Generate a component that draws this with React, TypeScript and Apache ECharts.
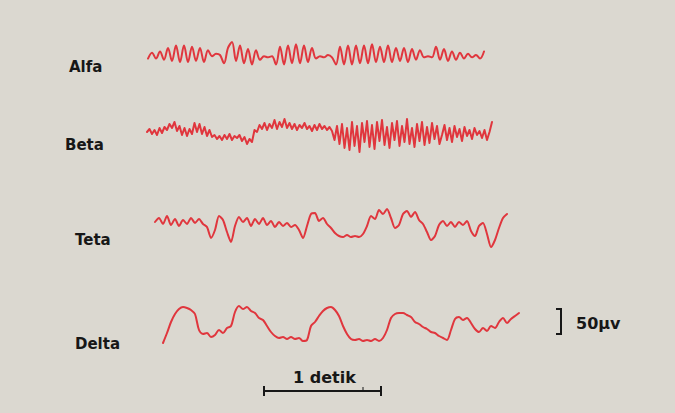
import { useEffect, useRef } from 'react';
import * as echarts from 'echarts';

const waveNames = ['Alfa', 'Beta', 'Teta', 'Delta'];

// amplitudes, positive = up
const alfaWave = [
  -3, 2, -3, 3, -4, 6, -5, 8, -6, 8, -6, 7, -5, 6, -6, 4, -1, 1, 0, -7,
  6, 11, -5, 8, -7, 5, -8, 4, -4, -1, -2, -1, -8, 7, -8, 8, -7, 9, -7, 8,
  -6, 6, -3, -1, -2, 0, -2, -8, 7, -8, 8, -8, 8, -7, 8, -7, 9, -6, 7, -6,
  8, -6, 6, -5, 6, -6, 5, -4, 4, -2, -1, -2, 7, -4, 5, -5, 3, -4, 2, -3,
  1, -2, 0, -3, 3,
];

const betaWave = [
  0, 3, -2, 2, -3, 4,
  -1, 5, 2, 8, 4, 10, 1, 6, -3, 4, -4, 3, -2, 9, 0, 8,
  -2, 5, -4, 2, -5, -3,
  -7, -4, -8, -3, -7, -2, -8, -4, -6, -3, -9, -5, -12, -7,
  -10, 2, 0, 7, 3, 9, 2, 8, 4, 12, 3, 10, 5, 13, 4, 9,
  3, 8, 2, 7, 4, 9, 3, 6, 1, 7, 2, 8, 3, 6, 2, 5,
  1, -8, 6, -12, 8, -16, 4, -18, 10, -14, 6, -20, 9, -10, 11, -15, 7, -17, 10, -9,
  12, -13, 5, -16, 9, -8, 11, -14, 6, -10, 13, -12, 4, -15, 8, -9, 10, -13, 5, -11,
  9, -7, 6, -12,
  -3, 7, -8, 4, -10, 6, -5, 3, -9, 5, -4, 2, -7, 4, -3, 1, -6, 2, -8, 0, 10,
];

const tetaWave = [
  6, 10, 4, 12, 3, 9, 2, 8, 4, 10, 5, 9, 4, 1, -10, -2, 12, 8, -4, -14,
  2, 11, 6, 10, 2, 9, 4, 10, 3, 7, 1, 6, 2, 5, 1, 3, -2, -10, 2, 14,
  15, 7, 10, 4, 0, -5, -8, -9, -7, -9, -8, -9, -6, 2, 12, 9, 18, 14, 19, 10,
  0, 3, 14, 17, 11, 16, 8, 4, -4, -12, -8, 3, 7, 2, 6, 1, 6, 3, 7, -3,
  -8, 2, 5, -6, -19, -12, 0, 10, 14,
];

const deltaWave = [
  -19, -9, 2, 10, 15, 17, 16, 14, 10, -6, -10, -9, -13, -11, -6, -9, -4, -2, 12, 18,
  15, 17, 13, 11, 6, 4, -2, -8, -12, -14, -13, -15, -13, -15, -14, -17, -16, -2, 2, 8,
  13, 16, 17, 14, 8, -2, -10, -15, -16, -15, -17, -16, -17, -15, -17, -14, -6, 6, 10, 11,
  11, 9, 7, 2, 0, -3, -5, -8, -9, -12, -14, -16, -6, 5, 7, 4, 6, 1, -5, -8,
  -4, -7, -2, -4, 2, 6, 1, 5, 8, 11,
];

const voltLabel = '50µv';
const timeLabel = '1 detik';

export default function App() {
  const chartRef = useRef<HTMLDivElement>(null);

  useEffect(() => {
    if (!chartRef.current) return;
    const chart = echarts.init(chartRef.current, null, { renderer: 'svg' });

    const waves = [alfaWave, betaWave, tetaWave, deltaWave];
    const grids = [
      { left: 148, top: 42, width: 336, height: 26 },
      { left: 147, top: 112, width: 345, height: 40 },
      { left: 155, top: 208, width: 352, height: 40 },
      { left: 163, top: 304, width: 356, height: 40 },
    ];
    const spans = [11, 20, 20, 20];
    const smooth = [0.35, 0, 0.25, 0.3];
    const labelPos = [
      [69, 67],
      [65, 145],
      [75, 240],
      [75, 344],
    ];

    const ink = '#171717';
    const labelFont = 'bold 15px "DejaVu Sans", sans-serif';

    chart.setOption({
      animation: false,
      backgroundColor: '#dbd8d0',
      grid: grids.map((g) => ({ ...g, containLabel: false })),
      xAxis: waves.map((w, i) => ({
        type: 'category',
        gridIndex: i,
        boundaryGap: false,
        data: w.map((_, k) => k),
        show: false,
      })),
      yAxis: waves.map((_, i) => ({
        type: 'value',
        gridIndex: i,
        min: -spans[i],
        max: spans[i],
        show: false,
      })),
      series: waves.map((w, i) => ({
        name: waveNames[i],
        type: 'line',
        xAxisIndex: i,
        yAxisIndex: i,
        data: w,
        symbol: 'none',
        smooth: smooth[i],
        lineStyle: { color: '#e0363d', width: 2, cap: 'round', join: 'round' },
      })),
      graphic: [
        ...waveNames.map((name, i) => ({
          type: 'text',
          x: labelPos[i][0],
          y: labelPos[i][1],
          style: {
            text: name,
            font: labelFont,
            fill: ink,
            textAlign: 'left',
            textVerticalAlign: 'middle',
          },
        })),
        {
          type: 'polyline',
          shape: { points: [[556, 309], [561, 309], [561, 334], [556, 334]] },
          style: { stroke: ink, lineWidth: 2, fill: 'none' },
        },
        {
          type: 'text',
          x: 576,
          y: 323,
          style: {
            text: voltLabel,
            font: 'bold 16px "DejaVu Sans", sans-serif',
            fill: ink,
            textAlign: 'left',
            textVerticalAlign: 'middle',
          },
        },
        {
          type: 'text',
          x: 293,
          y: 377,
          style: {
            text: timeLabel,
            font: 'bold 16px "DejaVu Sans", sans-serif',
            fill: ink,
            textAlign: 'left',
            textVerticalAlign: 'middle',
          },
        },
        {
          type: 'line',
          shape: { x1: 264, y1: 391, x2: 381, y2: 391 },
          style: { stroke: ink, lineWidth: 2 },
        },
        {
          type: 'line',
          shape: { x1: 264, y1: 386, x2: 264, y2: 396 },
          style: { stroke: ink, lineWidth: 2 },
        },
        {
          type: 'line',
          shape: { x1: 381, y1: 386, x2: 381, y2: 396 },
          style: { stroke: ink, lineWidth: 2 },
        },
        {
          type: 'line',
          shape: { x1: 363, y1: 387, x2: 363, y2: 391 },
          style: { stroke: ink, lineWidth: 1 },
        },
      ],
    });

    const handleResize = () => chart.resize();
    window.addEventListener('resize', handleResize);

    return () => {
      window.removeEventListener('resize', handleResize);
      chart.dispose();
    };
  }, []);

  return (
    <div
      ref={chartRef}
      style={{ position: 'fixed', left: 0, top: 0, width: 675, height: 413 }}
    />
  );
}
